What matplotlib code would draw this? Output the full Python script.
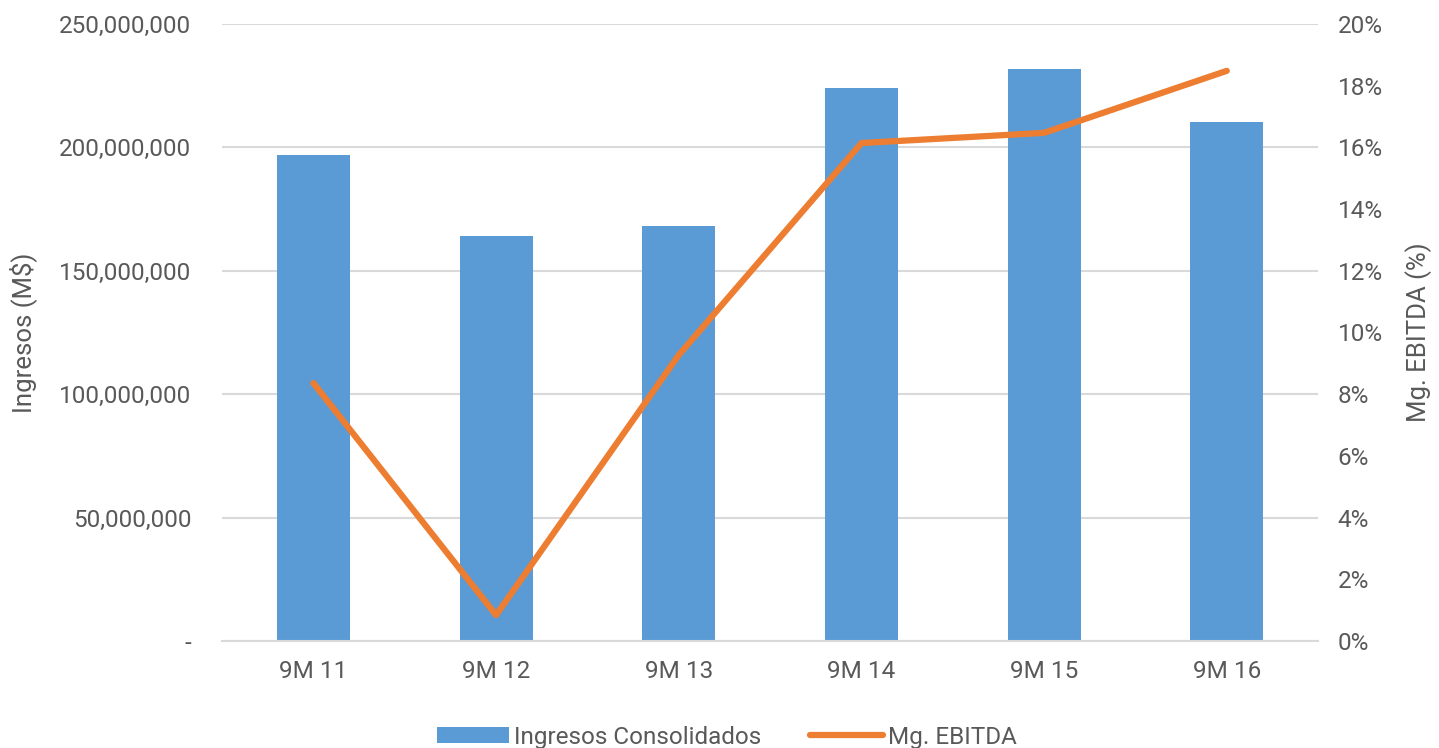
import matplotlib
matplotlib.use('Agg')
import matplotlib.pyplot as plt
from matplotlib.ticker import FuncFormatter, MultipleLocator
from matplotlib import font_manager

periodos = ['9M 11', '9M 12', '9M 13', '9M 14', '9M 15', '9M 16']
ingresos = [196.9e6, 164.1e6, 168.2e6, 224.1e6, 231.8e6, 210.3e6]
mg_ebitda = [8.36, 0.84, 9.27, 16.14, 16.47, 18.48]

names = {f.name for f in font_manager.fontManager.ttflist}
fam = 'Liberation Sans Narrow' if 'Liberation Sans Narrow' in names else 'Roboto'
plt.rcParams['font.family'] = [fam, 'DejaVu Sans']

gris = '#595959'
azul = '#5B9BD5'
naranja = '#ED7D31'

fig = plt.figure(figsize=(14.39, 7.48), dpi=100)
ax = fig.add_axes([0.1543, 0.143, 0.7617, 0.825])
ax2 = ax.twinx()

x = list(range(len(periodos)))
b = ax.bar(x, ingresos, width=0.4, color=azul, label='Ingresos Consolidados', zorder=2)
l, = ax2.plot(x, mg_ebitda, color=naranja, lw=4.5, solid_capstyle='round',
              label='Mg. EBITDA', zorder=3)

ax.set_xlim(-0.5, 5.5)
ax.set_ylim(0, 250e6)
ax2.set_ylim(0, 20)
ax.yaxis.set_major_locator(MultipleLocator(50e6))
ax2.yaxis.set_major_locator(MultipleLocator(2))
ax.yaxis.set_major_formatter(FuncFormatter(lambda v, p: '-' if v == 0 else f'{v:,.0f}'))
ax2.yaxis.set_major_formatter(FuncFormatter(lambda v, p: f'{v:.0f}%'))
ax.set_xticks(x)
ax.set_xticklabels(periodos)

ax.grid(axis='y', color='#D9D9D9', lw=1.5, zorder=0)
ax.set_axisbelow(True)
for a in (ax, ax2):
    for s in a.spines.values():
        s.set_visible(False)
    a.tick_params(length=0, labelsize=17.5, labelcolor=gris)
ax.spines['bottom'].set_visible(True)
ax.spines['bottom'].set_color('#D9D9D9')
ax.spines['bottom'].set_linewidth(1.5)
ax.tick_params(axis='y', pad=22)
ax.tick_params(axis='x', pad=14)
ax2.tick_params(axis='y', pad=14)

ax.set_ylabel('Ingresos (M$)', fontsize=18.5, color=gris, labelpad=16)
ax2.set_ylabel('Mg. EBITDA (%)', fontsize=18.5, color=gris, labelpad=16)

fig.legend([b, l], ['Ingresos Consolidados', 'Mg. EBITDA'], loc='lower center',
           bbox_to_anchor=(0.505, -0.03), ncol=2, frameon=False, fontsize=17.5,
           labelcolor=gris, handlelength=3.0, handleheight=0.6, handletextpad=0.2,
           columnspacing=2.0)

fig.savefig('out.png', dpi=100)
